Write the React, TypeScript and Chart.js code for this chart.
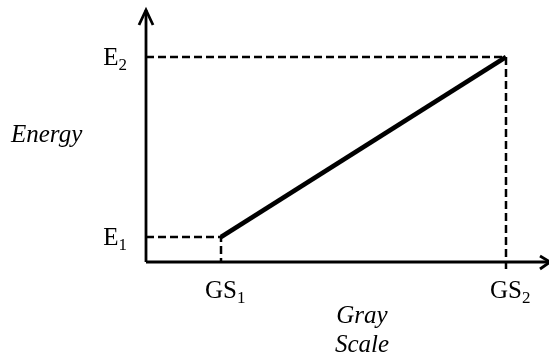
import React, { useEffect, useRef } from "react";
import { Chart, registerables } from "chart.js";

Chart.register(...registerables);

// Data (abstract units)
const grayScale = [1, 2]; // GS1, GS2
const energy = [1, 2]; // E1, E2
const xTickMain = ["GS", "GS"];
const xTickSub = ["1", "2"];
const yTickMain = ["E", "E"];
const yTickSub = ["1", "2"];
const yTitle = "Energy";
const xTitle = ["Gray", "Scale"];

// Axis bounds
const X_MIN = 0.7368;
const X_MAX = 2.1474;
const Y_MIN = 0.8611;
const Y_MAX = 2.2611;

const FONT = "'Liberation Serif', 'Times New Roman', serif";

const axesPlugin = {
  id: "patentAxes",
  afterDatasetsDraw(chart: any) {
    const { ctx, chartArea, scales } = chart;
    const xs = scales.x;
    const ys = scales.y;
    const left = chartArea.left;
    const bottom = chartArea.bottom;
    ctx.save();
    ctx.strokeStyle = "#000";
    ctx.fillStyle = "#000";
    ctx.lineWidth = 2.8;
    ctx.setLineDash([]);
    ctx.lineCap = "butt";
    // y axis
    ctx.beginPath();
    ctx.moveTo(left, bottom);
    ctx.lineTo(left, chartArea.top);
    ctx.stroke();
    // y arrow
    ctx.beginPath();
    ctx.moveTo(left - 7, chartArea.top + 15);
    ctx.lineTo(left, chartArea.top);
    ctx.lineTo(left + 7, chartArea.top + 15);
    ctx.stroke();
    // x axis
    ctx.beginPath();
    ctx.moveTo(left, bottom);
    ctx.lineTo(chartArea.right + 2, bottom);
    ctx.stroke();
    // x arrow
    ctx.beginPath();
    ctx.moveTo(chartArea.right - 8, bottom - 6);
    ctx.lineTo(chartArea.right + 2, bottom);
    ctx.lineTo(chartArea.right - 8, bottom + 7);
    ctx.stroke();

    // tick labels
    ctx.textBaseline = "alphabetic";
    const mainFont = `25px ${FONT}`;
    const subFont = `17px ${FONT}`;
    // y ticks
    energy.forEach((v, i) => {
      const py = ys.getPixelForValue(v);
      ctx.font = subFont;
      const sw = ctx.measureText(yTickSub[i]).width;
      ctx.font = mainFont;
      const mw = ctx.measureText(yTickMain[i]).width;
      const right = left - 19;
      const base = py + 8;
      ctx.fillText(yTickMain[i], right - sw - mw, base);
      ctx.font = subFont;
      ctx.fillText(yTickSub[i], right - sw, base + 5);
    });
    // x ticks
    grayScale.forEach((v, i) => {
      const px = xs.getPixelForValue(v);
      ctx.font = mainFont;
      const mw = ctx.measureText(xTickMain[i]).width;
      const x0 = px - mw / 2;
      const base = 298;
      ctx.fillText(xTickMain[i], x0, base);
      ctx.font = subFont;
      ctx.fillText(xTickSub[i], x0 + mw, base + 5);
    });
    // titles
    ctx.font = `italic 25px ${FONT}`;
    ctx.textAlign = "left";
    ctx.fillText(yTitle, 11, 142);
    ctx.textAlign = "center";
    ctx.fillText(xTitle[0], 362, 323);
    ctx.fillText(xTitle[1], 362, 352);
    ctx.restore();
  },
};

export default function App() {
  const ref = useRef<HTMLCanvasElement | null>(null);
  useEffect(() => {
    if (!ref.current) return;
    const dash = [8, 4];
    const chart = new Chart(ref.current, {
      type: "line",
      data: {
        datasets: [
          {
            data: [
              { x: X_MIN, y: energy[0] },
              { x: grayScale[0], y: energy[0] },
              { x: grayScale[0], y: Y_MIN },
            ],
            borderColor: "#000",
            borderWidth: 2.5,
            borderDash: dash,
            pointRadius: 0,
            tension: 0,
          },
          {
            data: [
              { x: X_MIN, y: energy[1] },
              { x: grayScale[1], y: energy[1] },
              { x: grayScale[1], y: Y_MIN - 0.045 },
            ],
            borderColor: "#000",
            borderWidth: 2.5,
            borderDash: dash,
            pointRadius: 0,
            tension: 0,
            clip: false,
          },
          {
            data: grayScale.map((g, i) => ({ x: g, y: energy[i] })),
            borderColor: "#000",
            borderWidth: 4.5,
            pointRadius: 0,
            tension: 0,
          },
        ],
      } as any,
      options: {
        animation: false,
        responsive: false,
        devicePixelRatio: 1,
        layout: { padding: { left: 146, right: 1, top: 10, bottom: 99 } },
        plugins: { legend: { display: false }, tooltip: { enabled: false } },
        scales: {
          x: { type: "linear", min: X_MIN, max: X_MAX, display: false },
          y: { type: "linear", min: Y_MIN, max: Y_MAX, display: false },
        },
      } as any,
      plugins: [axesPlugin],
    });
    return () => chart.destroy();
  }, []);
  return (
    <div style={{ position: "fixed", left: 0, top: 0, width: 549, height: 361, background: "#fff" }}>
      <canvas ref={ref} width={549} height={361} style={{ display: "block" }} />
    </div>
  );
}
